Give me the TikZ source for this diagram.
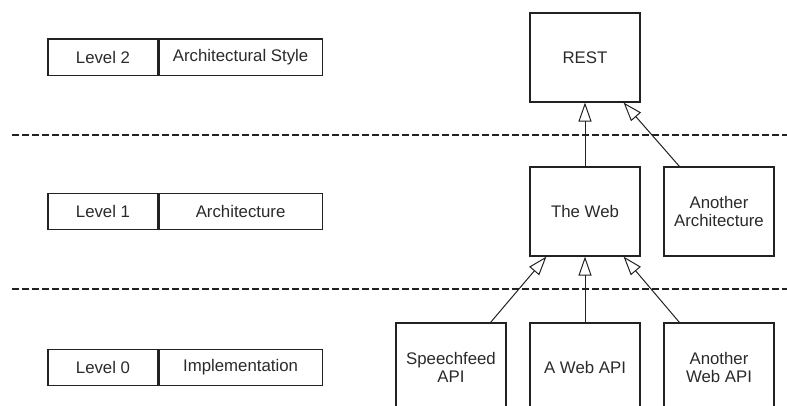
\documentclass[tikz,border=0pt]{standalone}
\usepackage{fontspec}
\setmainfont{Liberation Sans}
\usetikzlibrary{arrows.meta,calc}
\definecolor{ink}{HTML}{222222}
\definecolor{txt}{HTML}{2A2A2A}
\begin{document}
\begin{tikzpicture}[x=1pt,y=-1pt,
  every node/.style={font=\fontsize{16.8}{17.5}\selectfont, text=txt},
  box/.style={draw=ink, line width=1.1pt, rectangle, inner sep=0pt,
    minimum width=110pt, minimum height=89pt, align=center},
  cell/.style={draw=ink, line width=1.1pt, rectangle, inner sep=0pt,
    minimum height=36.5pt, align=center},
  levelcell/.style={cell, minimum width=110pt},
  namecell/.style={cell, minimum width=163pt},
  generalizes/.style={draw=ink, line width=1pt,
    -{Triangle[open, length=19pt, width=13pt, line width=1pt]}},
  separator/.style={draw=ink, line width=1.2pt, dash pattern=on 7pt off 3pt}]
\useasboundingbox (0,0) rectangle (787,405);
\clip (0,0) rectangle (787,405);

% level separators
\coordinate (s1a) at (12,135);
\coordinate (s1b) at (787,135);
\coordinate (s2a) at (12,289);
\coordinate (s2b) at (787,289);
\draw[separator] (s1a) -- (s1b);
\draw[separator] (s2a) -- (s2b);

% level legend
\node[levelcell] (l2a) at (103,57.25) {Level 2};
\node[namecell, anchor=west] (l2b) at (l2a.east) {Architectural Style};
\node[levelcell] (l1a) at (103,211.5) {Level 1};
\node[namecell, anchor=west] (l1b) at (l1a.east) {Architecture};
\node[levelcell] (l0a) at (103,367.5) {Level 0};
\node[namecell, anchor=west] (l0b) at (l0a.east) {Implementation};

% hierarchy
\node[box] (rest) at (585,57.5) {REST};
\node[box] (web) at (585,211.5) {The Web};
\node[box] (arch) at (719,211.5) {Another\\Architecture};
\node[box] (speech) at (451,367.5) {Speechfeed\\API};
\node[box] (aweb) at (585,367.5) {A Web API};
\node[box] (anweb) at (719,367.5) {Another\\Web API};

% generalization arrows
\draw[generalizes] (web.north) -- (rest.south);
\draw[generalizes] ($(arch.north west)+(16,0)$) -- ($(rest.south east)+(-17,0)$);
\draw[generalizes] ($(speech.north east)+(-16,0)$) -- ($(web.south west)+(17,0)$);
\draw[generalizes] (aweb.north) -- (web.south);
\draw[generalizes] ($(anweb.north west)+(16,0)$) -- ($(web.south east)+(-17,0)$);
\end{tikzpicture}
\end{document}
